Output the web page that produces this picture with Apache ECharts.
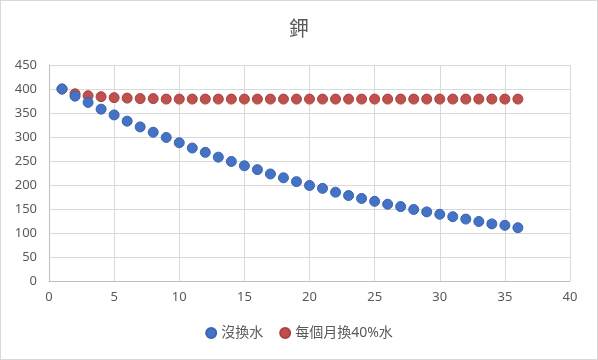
<!DOCTYPE html>
<html><head><meta charset="utf-8">
<script src="https://cdn.jsdelivr.net/npm/echarts@6/dist/echarts.min.js"></script>
<style>html,body{margin:0;padding:0;background:#fff}#c{width:598px;height:360px;box-sizing:border-box;border:1px solid #d9d9d9}</style>
</head><body><div id="c"></div>
<script>
const title = '鉀';
const seriesNames = ['沒換水', '每個月換40%水'];
const months = [1,2,3,4,5,6,7,8,9,10,11,12,13,14,15,16,17,18,19,20,21,22,23,24,25,26,27,28,29,30,31,32,33,34,35,36];
const noChange = [400,385,372,358,346,333,321,310,299,288,277,268,258,249,240,232,223,215,207,199,193,185,178,172,166,160,155,149,144,139,134,129,124,119,116,111];
const change40 = [400,390,386,384,382,381,380,380,379,379,379,379,379,379,379,379,379,379,379,379,379,379,379,379,379,379,379,379,379,379,379,379,379,379,379,379];
const colors = ['#4472c4', '#c0504d'];
const borders = ['#3a65b0', '#a8423f'];
const font = "'Noto Sans', 'Noto Sans CJK TC', sans-serif";
const chart = echarts.init(document.getElementById('c'));
const mk = (name, vals, i) => ({
  name, type: 'scatter', symbol: 'circle', symbolSize: 10,
  data: months.map((m, k) => [m, vals[k]]),
  itemStyle: { color: colors[i], borderColor: borders[i], borderWidth: 1, opacity: 1 },
  z: 3 - i
});
chart.setOption({
  animation: false,
  title: { text: title, left: 'center', top: 14, textStyle: { fontFamily: font, fontSize: 20, fontWeight: 'normal', color: '#595959' } },
  grid: { left: 48, right: 27, top: 64, bottom: 78, containLabel: false },
  xAxis: { type: 'value', min: 0, max: 40, interval: 5,
    axisLine: { show: true, lineStyle: { color: '#bfbfbf' } }, axisTick: { show: false },
    splitLine: { show: true, lineStyle: { color: '#d9d9d9' } },
    axisLabel: { fontFamily: font, fontSize: 13, color: '#595959', margin: 10 } },
  yAxis: { type: 'value', min: 0, max: 450, interval: 50,
    axisLine: { show: true, lineStyle: { color: '#bfbfbf' } }, axisTick: { show: false },
    splitLine: { show: true, lineStyle: { color: '#d9d9d9' } },
    axisLabel: { fontFamily: font, fontSize: 13, color: '#595959', margin: 12 } },
  legend: { bottom: 14, left: 'center', itemWidth: 10, itemHeight: 10, itemGap: 16,
    textStyle: { fontFamily: font, fontSize: 14, color: '#595959' },
    data: seriesNames.map(n => ({ name: n, icon: 'circle', itemStyle: { opacity: 1 } })) },
  series: [mk(seriesNames[0], noChange, 0), mk(seriesNames[1], change40, 1)]
});
</script></body></html>
